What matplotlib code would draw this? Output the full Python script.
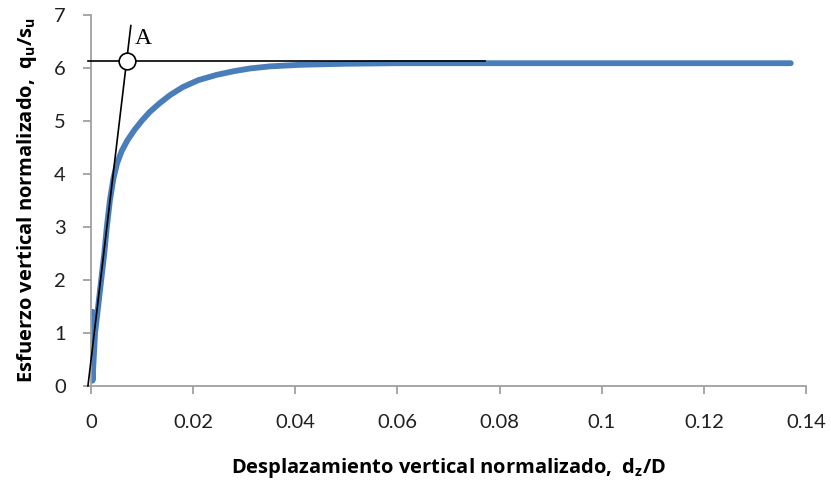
import matplotlib
matplotlib.use("Agg")
import matplotlib.pyplot as plt

# curve
disp = [0.0003, 0.0003, 0.0008, 0.0014, 0.0020, 0.0026, 0.0031, 0.0037, 0.0044,
        0.0051, 0.0060, 0.0071, 0.0085, 0.0100, 0.0115, 0.0135, 0.0155, 0.0180,
        0.0210, 0.0246, 0.0280, 0.0311, 0.0350, 0.0410, 0.0500, 0.0600, 0.0800,
        0.1000, 0.1200, 0.1370]
stress = [1.4, 0.1, 1.0, 1.5, 2.0, 2.5, 3.0, 3.5, 3.92,
          4.2, 4.43, 4.63, 4.83, 5.01, 5.17, 5.34, 5.49, 5.64,
          5.77, 5.87, 5.94, 5.99, 6.03, 6.06, 6.08, 6.09, 6.09,
          6.09, 6.09, 6.09]

# construction lines
tangent_x = [-0.0006, 0.0078]
tangent_y = [0.0, 6.8]
plateau_x = [-0.0006, 0.0771]
plateau_y = [6.13, 6.13]
point_a = (0.0070, 6.13)

xticks = [0, 0.02, 0.04, 0.06, 0.08, 0.1, 0.12, 0.14]
xtick_labels = ["0", "0.02", "0.04", "0.06", "0.08", "0.1", "0.12", "0.14"]
yticks = [0, 1, 2, 3, 4, 5, 6, 7]

plt.rcParams["font.family"] = ["Lato", "DejaVu Sans"]
plt.rcParams["mathtext.fontset"] = "custom"
plt.rcParams["mathtext.rm"] = "Open Sans"
plt.rcParams["mathtext.bf"] = "Open Sans:bold"

fig = plt.figure(figsize=(8.31, 4.86), dpi=100)
ax = fig.add_axes([0.1095, 0.2058, 0.8605, 0.7634])

ax.plot(disp, stress, color="#4a7ebb", lw=4.2, solid_capstyle="round",
        solid_joinstyle="round", zorder=2)
ax.plot(tangent_x, tangent_y, color="black", lw=1.2, clip_on=False, zorder=3)
ax.plot(plateau_x, plateau_y, color="black", lw=1.2, clip_on=False, zorder=3)
ax.plot([point_a[0]], [point_a[1]], marker="o", ms=12, mfc="white", mec="black",
        mew=1.2, zorder=4, clip_on=False)
ax.text(point_a[0] + 0.0016, 6.55, "A", fontsize=17, family="Liberation Serif",
        va="center", ha="left")

ax.set_xlim(0, 0.14)
ax.set_ylim(0, 7)
ax.set_xticks(xticks)
ax.set_xticklabels(xtick_labels)
ax.set_yticks(yticks)

for side in ["top", "right"]:
    ax.spines[side].set_visible(False)
for side in ["left", "bottom"]:
    ax.spines[side].set_color("#a0a0a0")
    ax.spines[side].set_linewidth(1.3)
ax.tick_params(axis="both", direction="out", length=6, width=1.3, color="#a0a0a0",
               labelsize=14.5, labelcolor="#202020")
ax.tick_params(axis="x", pad=14)
ax.tick_params(axis="y", pad=12)

label_font = dict(family="Open Sans", fontsize=14.5, fontweight="bold")
ax.set_xlabel(r"Desplazamiento vertical normalizado,  $\mathbf{d_z}$/D",
              labelpad=18, **label_font)
ax.set_ylabel(r"Esfuerzo vertical normalizado,  $\mathbf{q_u/s_u}$",
              labelpad=11, **label_font)

fig.savefig("out.png", dpi=100)
